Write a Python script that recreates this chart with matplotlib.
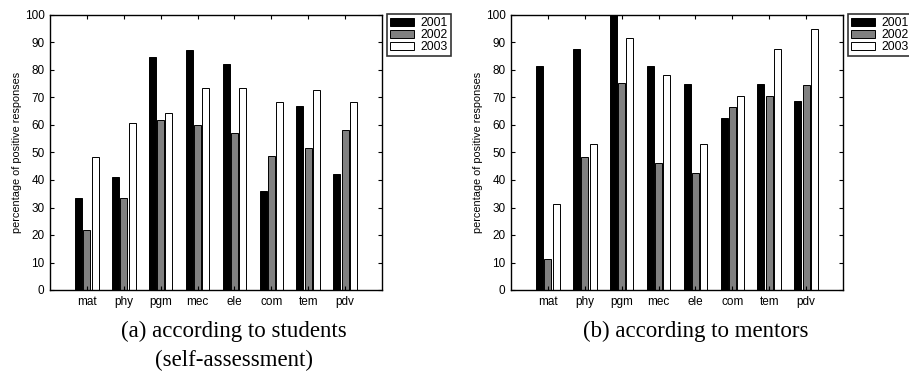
import matplotlib
matplotlib.use("Agg")
import matplotlib.pyplot as plt
import numpy as np

categories = ["mat", "phy", "pgm", "mec", "ele", "com", "tem", "pdv"]
years = ["2001", "2002", "2003"]

students_2001 = [33.5, 41.1, 84.6, 87.3, 82.2, 36.0, 66.8, 42.1]
students_2002 = [21.8, 33.5, 61.8, 59.9, 57.0, 48.6, 51.5, 58.3]
students_2003 = [48.4, 60.6, 64.5, 73.5, 73.3, 68.4, 72.8, 68.4]

mentors_2001 = [81.3, 87.5, 100.0, 81.3, 75.0, 62.5, 75.0, 68.8]
mentors_2002 = [11.2, 48.2, 75.4, 46.3, 42.5, 66.7, 70.4, 74.7]
mentors_2003 = [31.3, 53.1, 91.6, 78.1, 53.1, 70.7, 87.5, 95.0]

captions = ["(a) according to students", "(self-assessment)", "(b) according to mentors"]
ylabel = "percentage of positive responses"

plt.rcParams['font.family'] = ['Liberation Sans', 'DejaVu Sans']

W, H = 909, 373
fig = plt.figure(figsize=(W / 100, H / 100), dpi=100)

def box(x0, x1, ytop, ybot):
    return [x0 / W, 1 - ybot / H, (x1 - x0) / W, (ybot - ytop) / H]

axes = [fig.add_axes(box(50, 382, 15, 290)), fig.add_axes(box(511, 843, 15, 290))]
datasets = [[students_2001, students_2002, students_2003],
            [mentors_2001, mentors_2002, mentors_2003]]
colors = ["black", "#808080", "white"]
x = np.arange(1, len(categories) + 1)
bw = 0.19
off = 0.225

for ax, data in zip(axes, datasets):
    for i, (vals, c) in enumerate(zip(data, colors)):
        ax.bar(x + (i - 1) * off, vals, width=bw, color=c, edgecolor="black",
               linewidth=0.7, label=years[i])
    ax.set_xlim(0, 9)
    ax.set_ylim(0, 100)
    ax.set_xticks(x)
    ax.set_xticklabels(categories)
    ax.set_yticks(np.arange(0, 101, 10))
    ax.tick_params(direction="in", top=True, right=True, length=3, width=0.8,
                   labelsize=8.5, pad=4)
    ax.tick_params(axis="x", pad=4)
    for s in ax.spines.values():
        s.set_linewidth(1.0)
    ax.set_ylabel(ylabel, fontsize=7.8, labelpad=2)
    leg = ax.legend(loc="upper left", bbox_to_anchor=(1.015, 1.003), borderaxespad=0,
                    fontsize=8.8, frameon=True, fancybox=False, edgecolor="black",
                    handlelength=2.0, handleheight=0.7, handletextpad=0.5,
                    labelspacing=0.0, borderpad=0.25)
    leg.get_frame().set_linewidth(1.2)

fig.text(234 / W, 1 - 331 / H, captions[0], ha="center", va="center",
         fontsize=16.5, family="Liberation Serif")
fig.text(234 / W, 1 - 360 / H, captions[1], ha="center", va="center",
         fontsize=16.5, family="Liberation Serif")
fig.text(696 / W, 1 - 331 / H, captions[2], ha="center", va="center",
         fontsize=16.5, family="Liberation Serif")

fig.savefig("out.png", dpi=100)
